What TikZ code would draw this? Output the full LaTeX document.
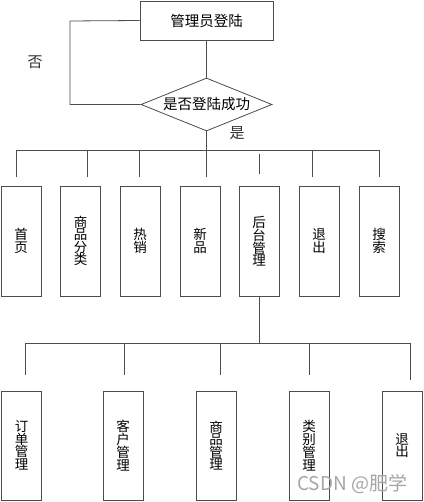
\documentclass[tikz,border=0pt]{standalone}
\usepackage{fontspec}
\newfontfamily\cjk{Noto Sans CJK SC}
\usetikzlibrary{shapes.geometric}
\begin{document}
\begin{tikzpicture}[x=1pt,y=-1pt,
  ln/.style={draw=black!70,line width=0.8pt},
  topbox/.style={ln,rectangle,inner sep=0pt,minimum width=133pt,minimum height=39pt,font=\cjk\fontsize{14.5}{15}\selectfont},
  decbox/.style={ln,diamond,inner sep=0pt,minimum width=131pt,minimum height=53pt,aspect=2.47,font=\cjk\fontsize{14.5}{15}\selectfont},
  vbox/.style={ln,rectangle,inner sep=0pt,minimum width=40pt,align=center,font=\cjk\fontsize{13.5}{12.5}\selectfont},
  rowA/.style={vbox,minimum height=110pt},
  rowB/.style={vbox,minimum height=109pt},
  lab/.style={font=\cjk\fontsize{15}{15}\selectfont,text=black!80,inner sep=0pt}
]
\useasboundingbox (0,0) rectangle (423,502);
\fill[white] (0,0) rectangle (423,502);

\node[topbox] (login) at (206.5,20.5) {管理员登陆};
\node[decbox] (dec) at (206.5,104.5) {是否登陆成功};
\node[lab] (no) at (35,62) {否};
\node[lab] (yes) at (237,133) {是};

% first row
\node[rowA] (a1) at (21,241) {首\\页};
\node[rowA] (a2) at (80.5,241) {商\\品\\分\\类};
\node[rowA] (a3) at (140,241) {热\\销};
\node[rowA] (a4) at (200,241) {新\\品};
\node[rowA] (a5) at (259,241) {后\\台\\管\\理};
\node[rowA] (a6) at (319,241) {退\\出};
\node[rowA] (a7) at (379,241) {搜\\索};

% second row
\node[rowB] (b1) at (21.5,445.5) {订\\单\\管\\理};
\node[rowB] (b2) at (123,445.5) {客\\户\\管\\理};
\node[rowB] (b3) at (216,445.5) {商\\品\\管\\理};
\node[rowB] (b4) at (309,445.5) {类\\别\\管\\理};
\node[rowB] (b5) at (402,445.5) {退\\出};

% watermark
\node[font=\cjk\fontsize{19}{19}\selectfont,text=black!35,anchor=west,inner sep=0pt] (wm) at (297,484) {CSDN @肥学};

% loop back
\coordinate (lp) at (70,21);
\draw[ln] (login.south) -- (dec.north);
\draw[ln] (login.west) -- (lp) |- (dec.west);

% first bus
\coordinate (busA) at (206.5,150);
\coordinate (busAL) at (16,150);
\coordinate (busAR) at (379,150);
\draw[ln] (dec.south) -- (busA);
\draw[ln] (busAL) -- (busAR);
\foreach \x/\n in {16/1,87/2,139/3,206.5/4,312/6,379/7}{
  \coordinate (dA\n) at (\x,150);
  \coordinate (eA\n) at (\x,177);
  \draw[ln] (dA\n) -- (eA\n);
}
\coordinate (dA5) at (259,154);
\coordinate (eA5) at (259,174);
\draw[ln] (dA5) -- (eA5);

% second bus
\coordinate (busB) at (259,343);
\coordinate (busBL) at (25,343);
\coordinate (busBR) at (410,343);
\draw[ln] (a5.south) -- (busB);
\draw[ln] (busBL) -- (busBR);
\foreach \x/\n in {25/1,124/2,220/3,309/4}{
  \coordinate (dB\n) at (\x,343);
  \coordinate (eB\n) at (\x,375);
  \draw[ln] (dB\n) -- (eB\n);
}
\coordinate (dB5) at (410,343);
\coordinate (eB5) at (410,380);
\draw[ln] (dB5) -- (eB5);
\end{tikzpicture}
\end{document}
